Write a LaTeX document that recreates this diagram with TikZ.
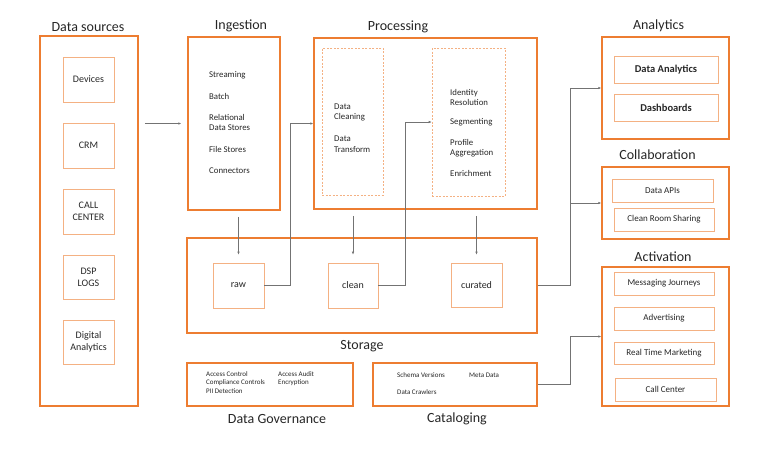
\documentclass[tikz,border=0pt]{standalone}
\usepackage{fontspec}
\setmainfont{Carlito}
\usetikzlibrary{arrows.meta,calc}
\definecolor{org}{HTML}{ED7D31}
\definecolor{lorg}{HTML}{F4B183}
\definecolor{txt}{HTML}{262626}
\newcommand\mybox[7]{\node[#1, minimum width={#5-#3}, minimum height={#6-#4}] (#2) at ({(#3+#5)/2},{(#4+#6)/2}) {#7};}
\begin{document}
\begin{tikzpicture}[x=1pt,y=-1pt,
  every node/.style={text=txt},
  outer/.style={draw=org, line width=1.5pt, inner sep=0pt},
  inner/.style={draw=lorg, line width=0.7pt, inner sep=0pt, align=center, font=\fontsize{10}{12}\selectfont},
  innerb/.style={inner, font=\fontsize{10.5}{12}\selectfont\bfseries},
  inners/.style={inner, font=\fontsize{9}{11}\selectfont},
  dbox/.style={draw=lorg, line width=0.6pt, dash pattern=on 2pt off 1.5pt, inner sep=0pt},
  title/.style={font=\fontsize{14}{16}\selectfont, inner sep=0pt},
  item/.style={anchor=west, align=left, inner sep=0pt, font=\fontsize{8.8}{10.5}\selectfont},
  small/.style={anchor=west, align=left, inner sep=0pt, font=\fontsize{7}{8.5}\selectfont},
  arr/.style={draw=black!55, line width=0.6pt, -{Latex[length=3pt,width=2.6pt]}}]
\useasboundingbox (0,0) rectangle (770,450);
% Data sources
\mybox{outer}{ds}{40}{36}{138}{406}{}
\mybox{inner}{dev}{63}{57}{114}{102}{Devices}
\mybox{inner}{crm}{63}{123}{114}{168}{CRM}
\mybox{inner}{cc}{63}{189}{114}{234}{CALL\\CENTER}
\mybox{inner}{dsp}{63}{255}{114}{299}{DSP\\LOGS}
\mybox{inner}{dig}{63}{320}{114}{364}{Digital\\Analytics}
\node[title] (tds) at (88,27) {Data sources};
% Ingestion
\mybox{outer}{ing}{188}{37}{280}{210}{}
\node[title] (ting) at (241,26) {Ingestion};
\node[item] (i1) at (209,75) {Streaming};
\node[item] (i2) at (209,96.5) {Batch};
\node[item] (i3) at (209,122.5) {Relational\\Data Stores};
\node[item] (i4) at (209,149) {File Stores};
\node[item] (i5) at (209,171) {Connectors};
% Processing
\mybox{outer}{proc}{314}{38}{537}{209}{}
\mybox{dbox}{ps1}{322}{48}{383}{195}{}
\mybox{dbox}{ps2}{432}{48}{505}{196}{}
\node[title] (tproc) at (398,27) {Processing};
\node[item] (p1) at (334,112.3) {Data\\Cleaning};
\node[item] (p2) at (334,144) {Data\\Transform};
\node[item] (p3) at (450,97.3) {Identity\\Resolution};
\node[item] (p4) at (450,122.7) {Segmenting};
\node[item] (p5) at (450,148.3) {Profile\\Aggregation};
\node[item] (p6) at (450,173.3) {Enrichment};
% Storage
\mybox{outer}{stor}{187}{238}{537}{333}{}
\mybox{inner}{raw}{213}{263}{264}{308}{raw}
\mybox{inner}{clean}{328}{263}{378}{308}{clean}
\mybox{inner}{curated}{451}{263}{502}{307}{curated}
\node[title] (tstor) at (362,346) {Storage};
% Governance
\mybox{outer}{gov}{187}{363}{353}{406}{}
\node[small] (g1) at (206,382.5) {Access Control\\Compliance Controls\\PII Detection};
\node[small] (g2) at (278,378.5) {Access Audit\\Encryption};
\node[title] (tgov) at (277,419) {Data Governance};
% Cataloging
\mybox{outer}{cat}{373}{363}{537}{406}{}
\node[small] (c1) at (397,375) {Schema Versions};
\node[small] (c2) at (469,375) {Meta Data};
\node[small] (c3) at (397,392) {Data Crawlers};
\node[title] (tcat) at (457,419) {Cataloging};
% Analytics
\mybox{outer}{ana}{602}{37}{729}{139}{}
\mybox{innerb}{da}{614}{56}{718}{83}{Data Analytics}
\mybox{innerb}{dash}{614}{94}{718}{121}{Dashboards}
\node[title] (tana) at (658.5,26) {Analytics};
% Collaboration
\mybox{outer}{col}{602}{167}{729}{239}{}
\mybox{inners}{api}{612}{179}{713}{202}{Data APIs}
\mybox{inners}{crs}{614}{208}{714}{231}{Clean Room Sharing}
\node[title] (tcol) at (657.5,155) {Collaboration};
% Activation
\mybox{outer}{act}{602}{267}{729}{406}{}
\mybox{inners}{mj}{614}{272}{714}{295}{Messaging Journeys}
\mybox{inners}{adv}{614}{307}{714}{330}{Advertising}
\mybox{inners}{rtm}{614}{342}{714}{364}{Real Time Marketing}
\mybox{inners}{ccr}{615}{378}{716}{401}{Call Center}
\node[title] (tact) at (663,257) {Activation};
% Connectors
\draw[arr, shorten <=6pt, shorten >=6pt] (ds.east |- ing.west) -- (ing.west);
\draw[arr, shorten <=6pt, shorten >=8pt] (raw.north |- ing.south) -- (raw.north);
\draw[arr, shorten <=6pt, shorten >=8pt] (clean.north |- proc.south) -- (clean.north);
\draw[arr, shorten <=6pt, shorten >=8pt] (curated.north |- proc.south) -- (curated.north);
\draw[arr] (raw.east) -- ++(26,0) |- (proc.west);
\draw[arr] (clean.east) -- ++(27,0) |- (ps2.west);
\draw[arr] (stor.east) -- ++(33,0) coordinate (sj) |- (ana.west);
\draw[arr] (sj) |- (col.west);
\draw[arr] (cat.east) -- ++(33,0) |- (act.west);
\end{tikzpicture}
\end{document}
